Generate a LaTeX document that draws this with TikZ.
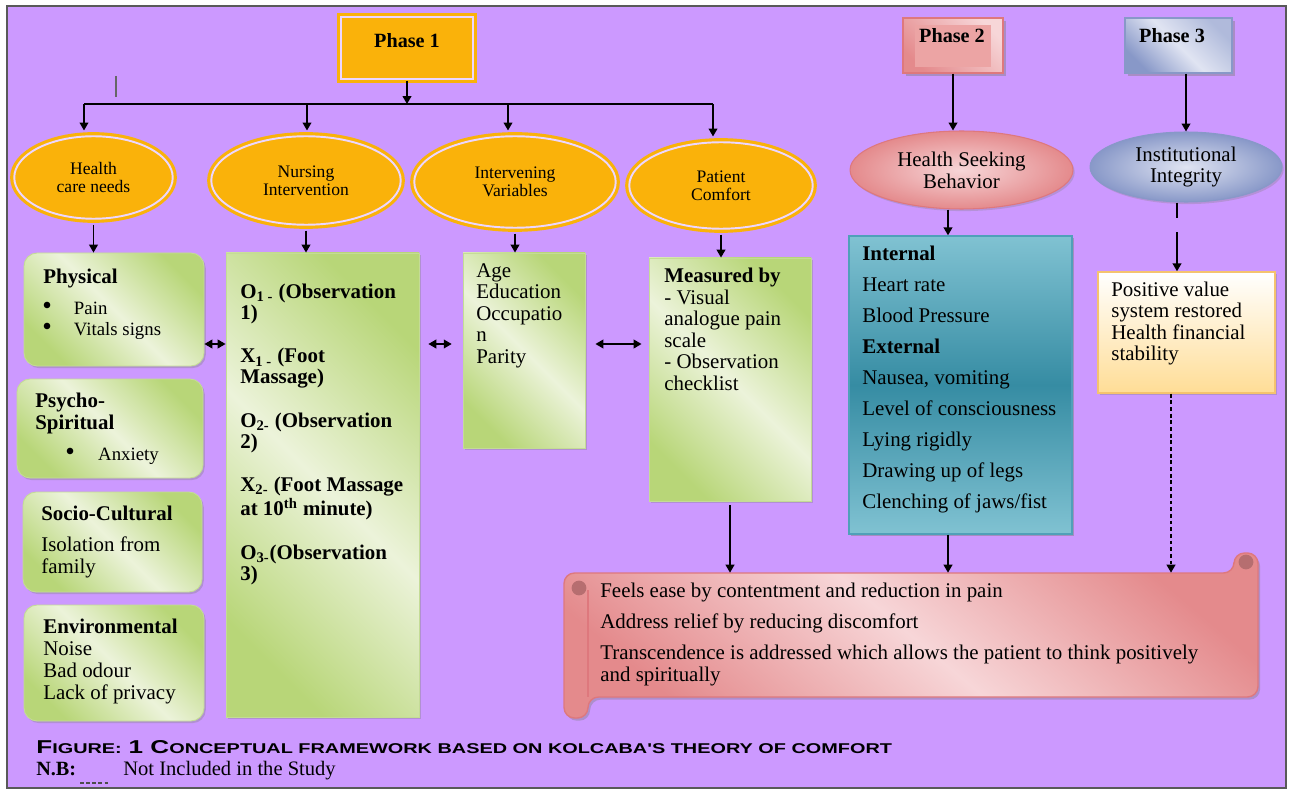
\documentclass[tikz,border=0pt]{standalone}
\usepackage{fontspec}
\setmainfont{Liberation Serif}
\newfontfamily\capfont{Liberation Sans}
\usepackage{graphicx}
\usetikzlibrary{arrows.meta,shapes.geometric,fit,shadows,calc}

\definecolor{bgpurple}{RGB}{204,153,255}
\definecolor{orng}{RGB}{250,178,10}
\definecolor{lav}{RGB}{236,214,255}
\definecolor{grnD}{RGB}{184,214,120}
\definecolor{grnL}{RGB}{236,243,218}
\definecolor{grnB}{RGB}{196,220,150}
\definecolor{tealL}{RGB}{128,194,210}
\definecolor{tealD}{RGB}{54,140,163}
\definecolor{tealB}{RGB}{80,160,185}
\definecolor{pinkD}{RGB}{228,138,140}
\definecolor{pinkM}{RGB}{236,164,164}
\definecolor{pinkL}{RGB}{247,214,216}
\definecolor{pinkB}{RGB}{222,120,125}
\definecolor{blueD}{RGB}{136,152,200}
\definecolor{blueL}{RGB}{224,228,242}
\definecolor{yelB}{RGB}{245,195,110}
\definecolor{yelD}{RGB}{255,221,150}

\newcommand{\capbig}[1]{{\fontsize{10.5}{10.5}\selectfont#1}}
\newcommand{\capsmall}[1]{{\fontsize{8}{8}\selectfont#1}}
\newcommand{\dotitem}[1]{\makebox[#1][l]{\raisebox{0pt}[0pt][0pt]{\scalebox{1.45}{\textbullet}}}}

\tikzset{
  frame/.style={fill=bgpurple, draw=black!65, line width=0.8pt},
  phaseone/.style={rectangle, draw=orng, fill=orng, double=lav, double distance=1.1pt,
    line width=1.8pt, inner sep=0pt, font=\fontsize{11.5}{13}\selectfont\bfseries},
  ringell/.style={ellipse, draw=orng, fill=orng, double=lav, double distance=1.1pt,
    line width=1.8pt, inner sep=0pt, align=center, font=\fontsize{10}{10.2}\selectfont},
  pinkell/.style={ellipse, draw=pinkB, line width=0.6pt, inner color=pinkL, outer color=pinkD,
    inner sep=0pt, align=center, font=\fontsize{11.9}{12.5}\selectfont,
    drop shadow={shadow xshift=1pt, shadow yshift=-1.2pt, opacity=0.3}},
  blueell/.style={pinkell, draw=blueD, inner color=blueL, outer color=blueD},
  greenbox/.style={rectangle, draw=grnB, line width=0.5pt, top color=grnD, bottom color=grnD,
    middle color=grnL, shading angle=-45, inner sep=0pt,
    drop shadow={shadow xshift=1pt, shadow yshift=-1.2pt, opacity=0.35}},
  roundbox/.style={greenbox, rounded corners=7.5pt},
  tealbox/.style={rectangle, draw=tealB, line width=0.8pt, top color=tealL, bottom color=tealL,
    middle color=tealD, inner sep=0pt,
    drop shadow={shadow xshift=1.2pt, shadow yshift=-1.2pt, opacity=0.5}},
  yelbox/.style={rectangle, draw=yelB, line width=0.8pt, top color=white, bottom color=yelD,
    inner sep=0pt, drop shadow={shadow xshift=1.2pt, shadow yshift=-1.2pt, opacity=0.35}},
  phasetwo/.style={rectangle, draw=pinkB, line width=0.8pt, top color=pinkL, bottom color=pinkD,
    shading angle=-45, inner sep=0pt,
    drop shadow={shadow xshift=1.8pt, shadow yshift=-1.8pt, opacity=0.45}},
  phasethree/.style={phasetwo, draw=blueD, top color=blueD!55!blueL, bottom color=blueD,
    middle color=blueL, shading angle=-45},
  scrollfill/.style={draw=pinkB, line width=0.8pt, top color=pinkD, bottom color=pinkD,
    middle color=pinkL, shading angle=-40, rounded corners=6pt,
    drop shadow={shadow xshift=1.2pt, shadow yshift=-1.5pt, opacity=0.4}},
  anchorbox/.style={rectangle, inner sep=0pt},
  txt/.style={inner sep=0pt, anchor=base west, align=left, font=\fontsize{11.9}{12.4}\selectfont},
  btxt/.style={txt, font=\fontsize{11.9}{12.4}\selectfont\bfseries},
  stxt/.style={txt, font=\fontsize{10.7}{11.9}\selectfont},
  ptxt/.style={inner sep=0pt, anchor=base, font=\fontsize{11.5}{13}\selectfont\bfseries},
  arr/.style={-{Triangle[length=4.5pt,width=5pt]}, line width=0.8pt},
  darr/.style={{Triangle[length=4.5pt,width=5pt]}-{Triangle[length=4.5pt,width=5pt]}, line width=0.8pt},
  ringend/.style={shorten >=2.4pt},
  ringstart/.style={shorten <=2.4pt}
}

\begin{document}
\begin{tikzpicture}[x=0.02cm, y=-0.02cm]
  \useasboundingbox (0,0) rectangle (1290,790);
  \fill[white] (0,0) rectangle (1290,790);
  \draw[frame] (7,6) rectangle (1286,788);
  \draw[black!60, line width=0.6pt] (116,76) -- (116,97);

  \node[phaseone, fit={(341,17) (473,79)}] (ph1) {Phase 1};
  \node[ringell, minimum width=3.17cm, minimum height=1.65cm] (hcn) at (93.5,177.5) {Health\\care needs};
  \node[ringell, minimum width=3.79cm, minimum height=1.77cm] (nurse) at (306,180.5) {Nursing\\Intervention};
  \node[ringell, minimum width=4.03cm, minimum height=1.83cm] (intv) at (515,182) {Intervening\\Variables};
  \node[ringell, minimum width=3.67cm, minimum height=1.73cm] (pc) at (721,185.5) {Patient\\Comfort};

  \node[phasetwo, fit={(903,18) (1003,73)}] (ph2) {};
  \fill[pinkM] (915,25) rectangle (991,67);
  \node[ptxt] (ph2T) at (952,43) {Phase 2};
  \node[phasethree, fit={(1125,18) (1232,73)}] (ph3) {};
  \node[ptxt] (ph3T) at (1172,43) {Phase 3};
  \node[pinkell, minimum width=4.46cm, minimum height=1.56cm] (hsb) at (961.5,170) {Health Seeking\\Behavior};
  \node[blueell, minimum width=3.84cm, minimum height=1.4cm] (inst) at (1186,167) {Institutional\\Integrity};

  \node[roundbox, fit={(24,253) (204,366)}] (phys) {};
  \node[roundbox, fit={(17,379) (203,478)}] (psy) {};
  \node[roundbox, fit={(23,492) (202,592)}] (soc) {};
  \node[roundbox, fit={(24,605) (204,721)}] (env) {};
  \node[greenbox, fit={(226,253) (419,717)}] (nursbox) {};
  \node[greenbox, fit={(463,253) (585,448)}] (intvbox) {};
  \node[greenbox, fit={(649,258) (811,501)}] (measbox) {};
  \node[tealbox, fit={(849,236) (1072,534)}] (blue) {};
  \node[yelbox, fit={(1098,272) (1275,393)}] (yel) {};

  \draw[scrollfill] (640,573) -- (1234,573) -- (1234,553) -- (1258,553) -- (1258,697)
    -- (588,697) -- (588,718) -- (564,718) -- (564,573) -- cycle;
  \draw[pinkB, line width=0.8pt] (588,590) -- (588,697);
  \fill[pinkD!80!black] (579,588) circle (4.2pt);
  \fill[pinkD!80!black] (1246,562) circle (4.2pt);
  \node[anchorbox, fit={(564,573) (1258,697)}] (scroll) {};

  \node[btxt] (physT) at (43,283) {Physical};
  \node[stxt] (physL) at (42,335) {\dotitem{18pt}Pain\\\dotitem{18pt}Vitals signs};
  \node[btxt] (psyT) at (35,429) {Psycho-\\Spiritual};
  \node[stxt] (psyL) at (65,460) {\dotitem{18.7pt}Anxiety};
  \node[btxt] (socT) at (41,520) {Socio-Cultural};
  \node[txt] (socL) at (41,573) {Isolation from\\family};
  \node[txt] (envT) at (43,699) {\textbf{Environmental}\\Noise\\Bad odour\\Lack of privacy};
  \node[btxt, font=\fontsize{11.9}{11.9}\selectfont\bfseries] (nursT) at (240,580)
    {O\textsubscript{1 -} (Observation\\1)\\[12.8pt]X\textsubscript{1 -} (Foot\\Massage)\\[12.8pt]O\textsubscript{2-} (Observation\\2)\\[12.8pt]X\textsubscript{2-} (Foot Massage\\at 10\textsuperscript{th} minute)\\[12.8pt]O\textsubscript{3-}(Observation\\3)};
  \node[txt, font=\fontsize{11.9}{12.2}\selectfont] (intvT) at (476,363) {Age\\Education\\Occupatio\\n\\Parity};
  \node[txt, font=\fontsize{11.9}{12.2}\selectfont] (measT) at (664,390)
    {\textbf{Measured by}\\- Visual\\analogue pain\\scale\\- Observation\\checklist};
  \node[txt, font=\fontsize{11.9}{17.6}\selectfont] (blueT) at (862,508)
    {\textbf{Internal}\\Heart rate\\Blood Pressure\\\textbf{External}\\Nausea, vomiting\\Level of consciousness\\Lying rigidly\\Drawing up of legs\\Clenching of jaws/fist};
  \node[txt, font=\fontsize{11.9}{12.2}\selectfont] (yelT) at (1111,360.5) {Positive value\\system restored\\Health financial\\stability};
  \node[txt, font=\fontsize{11.9}{12.5}\selectfont] (scrollT) at (600,681)
    {Feels ease by contentment and reduction in pain\\[5.1pt]Address relief by reducing discomfort\\[5.1pt]Transcendence is addressed which allows the patient to think positively\\and spiritually};

  \node[inner sep=0pt, anchor=base west] (cap) at (36,753)
    {\resizebox{487pt}{7.4pt}{\capfont\bfseries\capbig{F}\capsmall{IGURE:} \capbig{1 C}\capsmall{ONCEPTUAL FRAMEWORK BASED ON KOLCABA'S THEORY OF COMFORT}}};
  \node[btxt, font=\fontsize{11.5}{12}\selectfont\bfseries] (nb) at (36,775) {N.B:};
  \node[txt, font=\fontsize{11.7}{12}\selectfont] (nbT) at (123,775) {Not Included in the Study};
  \draw[black!70, line width=0.6pt, dash pattern=on 2pt off 1.5pt] (80,783) -- (108,783);

  \coordinate (barL) at (84,104);
  \coordinate (barN) at (307,104);
  \coordinate (barI) at (508,104);
  \coordinate (barR) at (713,104);
  \coordinate (lvl) at (0,344);
  \coordinate (colB) at (948,0);
  \coordinate (colC) at (1177,0);
  \coordinate (colD) at (1171,0);

  \begin{scope}[arr]
    \draw (ph1.south) to (ph1.south |- barL);
    \draw[-] (barL) to (barR);
    \draw[ringend] (barL) to (barL |- hcn.north);
    \draw[ringend] (barN) to (barN |- nurse.north);
    \draw[ringend] (barI) to (barI |- intv.north);
    \draw[ringend] (barR) to (barR |- pc.north);
    \draw[ringstart] (hcn.south) to (hcn.south |- phys.north);
    \draw[ringstart] (nurse.south) to (nurse.south |- nursbox.north);
    \draw[ringstart] (intv.south) to (intv.south |- intvbox.north);
    \draw[ringstart] (pc.south) to (pc.south |- measbox.north);
    \draw[darr] (phys.east |- lvl) to (nursbox.west |- lvl);
    \draw[darr, shorten <=5.1pt, shorten >=6.2pt] (nursbox.east |- lvl) to (intvbox.west |- lvl);
    \draw[darr, shorten <=5.7pt, shorten >=4pt] (intvbox.east |- lvl) to (measbox.west |- lvl);
    \draw (ph2.south) to (ph2.south |- hsb.north);
    \draw (inst.north |- ph3.south) to (inst.north);
    \draw (hsb.south -| colB) to (blue.north -| colB);
    \draw (blue.south -| colB) to (scroll.north -| colB);
    \draw[shorten <=2pt] (measbox.south) to (measbox.south |- scroll.north);
    \draw[dash pattern=on 9pt off 8pt on 30pt] (inst.south -| colC) to (yel.north -| colC);
    \draw[dash pattern=on 2.2pt off 1.6pt] (yel.south -| colD) to (scroll.north -| colD);
  \end{scope}
\end{tikzpicture}
\end{document}
